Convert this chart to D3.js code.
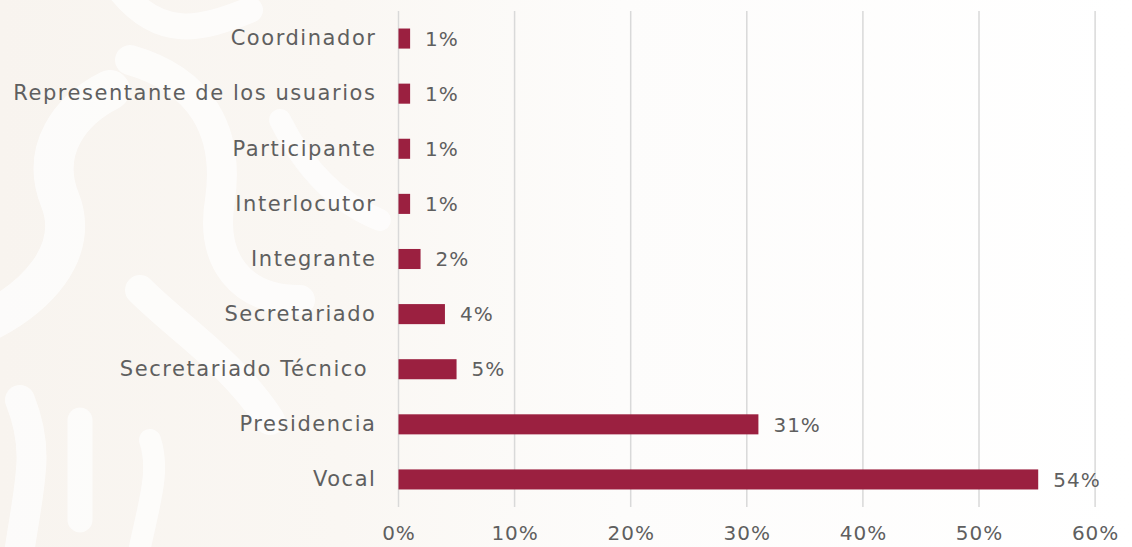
<!DOCTYPE html>
<html>
<head>
<meta charset="utf-8">
<script src="https://cdn.jsdelivr.net/npm/d3@7/dist/d3.min.js"></script>
<style>
  html, body { margin: 0; padding: 0; background: #ffffff; }
  svg { display: block; }
  text { font-family: "DejaVu Sans", sans-serif; fill: #5f5f5f; }
</style>
</head>
<body>
<svg id="chart" width="1132" height="547"></svg>
<script>
const categories = ["Coordinador", "Representante de los usuarios", "Participante", "Interlocutor", "Integrante", "Secretariado", "Secretariado Técnico ", "Presidencia", "Vocal"];
const values = [1.0, 1.0, 1.0, 1.0, 1.9, 4.0, 5.0, 31.0, 55.1];
const valueLabels = ["1%", "1%", "1%", "1%", "2%", "4%", "5%", "31%", "54%"];
const xTicks = [0, 10, 20, 30, 40, 50, 60];

const W = 1132, H = 547;
const margin = { left: 398.5, right: 37, top: 11, bottom: 40 };
const svg = d3.select("#chart");

// faint background watermark
const defs = svg.append("defs");
const grad = defs.append("linearGradient").attr("id", "bgGrad").attr("x1", "0").attr("x2", "1").attr("y1", "0").attr("y2", "0");
grad.append("stop").attr("offset", "0").attr("stop-color", "#f8f4ef");
grad.append("stop").attr("offset", "0.3").attr("stop-color", "#faf7f3");
grad.append("stop").attr("offset", "0.55").attr("stop-color", "#fdfcfb");
grad.append("stop").attr("offset", "1").attr("stop-color", "#ffffff");
svg.append("rect").attr("width", W).attr("height", H).attr("fill", "url(#bgGrad)");
const bg = svg.append("g").attr("fill", "none").attr("stroke", "#ffffff").attr("stroke-linecap", "round").attr("opacity", 0.7);
bg.append("path").attr("d", "M-30,330 C40,300 80,250 60,200 C40,150 70,110 110,90").attr("stroke-width", 40);
bg.append("path").attr("d", "M130,60 C200,80 230,130 220,200 C210,260 240,300 300,300").attr("stroke-width", 30);
bg.append("path").attr("d", "M140,290 C180,330 230,360 270,420").attr("stroke-width", 30);
bg.append("path").attr("d", "M80,520 L80,420").attr("stroke-width", 25);
bg.append("path").attr("d", "M20,547 C30,480 40,450 20,400").attr("stroke-width", 30);
bg.append("path").attr("d", "M140,547 C150,500 160,470 150,440").attr("stroke-width", 22);
bg.append("path").attr("d", "M120,-10 C160,40 200,30 250,10").attr("stroke-width", 26);
bg.append("path").attr("d", "M280,120 C300,160 330,200 380,220").attr("stroke-width", 22);

const x = d3.scaleLinear().domain([0, 60]).range([margin.left, margin.left + 6 * 116.1]);
const y = d3.scaleBand().domain(categories).range([margin.top, 507]).paddingInner(0.636).paddingOuter(0.318);

// gridlines
svg.append("g")
  .selectAll("line").data(xTicks).join("line")
  .attr("x1", d => x(d)).attr("x2", d => x(d))
  .attr("y1", margin.top).attr("y2", 507)
  .attr("stroke", "#d9d9d9").attr("stroke-width", 1.5);

// x axis labels
const xAxis = d3.axisBottom(x).tickValues(xTicks).tickFormat(d => d + "%").tickSize(0).tickPadding(0);
const gx = svg.append("g").attr("transform", `translate(0, 522)`).call(xAxis);
gx.select(".domain").remove();
gx.selectAll("text").attr("font-size", 20).attr("fill", "#6a6a6a").attr("dy", "0.9em")
  .style("letter-spacing", "1px")
  .style("font-family", "DejaVu Sans, sans-serif");

// y axis labels
const yAxis = d3.axisLeft(y).tickSize(0).tickPadding(22);
const gy = svg.append("g").attr("transform", `translate(${margin.left}, 0)`).call(yAxis);
gy.select(".domain").remove();
gy.selectAll("text").attr("font-size", 21).attr("fill", "#5f5f5f").style("white-space", "pre")
  .style("letter-spacing", "1.55px")
  .style("font-family", "DejaVu Sans, sans-serif");

// bars
svg.append("g").selectAll("rect").data(categories).join("rect")
  .attr("x", x(0))
  .attr("y", d => y(d))
  .attr("width", (d, i) => x(values[i]) - x(0))
  .attr("height", y.bandwidth())
  .attr("fill", "#9b2040");

// value labels
svg.append("g").selectAll("text").data(categories).join("text")
  .attr("x", (d, i) => x(values[i]) + 15)
  .attr("y", d => y(d) + y.bandwidth() / 2)
  .attr("dy", "0.36em")
  .attr("font-size", 20)
  .attr("fill", "#5f5f5f")
  .style("letter-spacing", "1px")
  .text((d, i) => valueLabels[i]);
</script>
</body>
</html>
